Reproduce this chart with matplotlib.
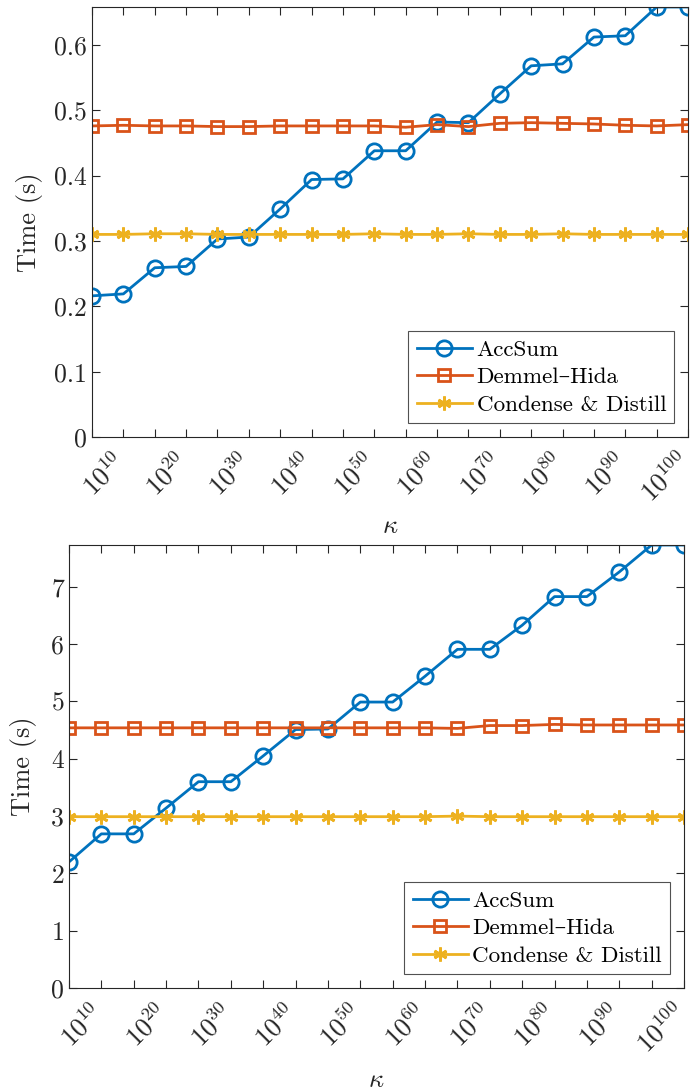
"""Timing comparison of summation algorithms versus condition number."""

import matplotlib
matplotlib.use("Agg")
import matplotlib.pyplot as plt
import matplotlib.transforms as mtransforms
import numpy as np
from matplotlib.ticker import FixedLocator, NullFormatter

plt.rcParams["font.family"] = ["cmr10", "DejaVu Serif"]
plt.rcParams["mathtext.fontset"] = "cm"
plt.rcParams["axes.unicode_minus"] = False

# condition numbers: 10^5 ... 10^100
exponents = list(range(5, 101, 5))
label_exps = list(range(10, 101, 10))

# top panel (s)
acc_top = [0.216, 0.219, 0.259, 0.261, 0.303, 0.306, 0.349, 0.394, 0.395, 0.438,
           0.438, 0.482, 0.481, 0.525, 0.568, 0.571, 0.612, 0.614, 0.658, 0.658]
dh_top = [0.476, 0.477, 0.476, 0.476, 0.475, 0.475, 0.476, 0.476, 0.476, 0.476,
          0.474, 0.478, 0.475, 0.480, 0.481, 0.480, 0.479, 0.477, 0.476, 0.478]
cd_top = [0.310, 0.310, 0.311, 0.311, 0.310, 0.310, 0.310, 0.310, 0.310, 0.311,
          0.310, 0.310, 0.311, 0.310, 0.310, 0.311, 0.310, 0.310, 0.310, 0.310]

# bottom panel (s)
acc_bot = [2.20, 2.69, 2.69, 3.14, 3.60, 3.60, 4.05, 4.51, 4.52, 4.99,
           4.99, 5.44, 5.91, 5.91, 6.33, 6.83, 6.83, 7.26, 7.73, 7.73]
dh_bot = [4.54, 4.54, 4.54, 4.54, 4.54, 4.54, 4.54, 4.54, 4.54, 4.54,
          4.54, 4.54, 4.53, 4.58, 4.58, 4.60, 4.59, 4.59, 4.59, 4.59]
cd_bot = [2.99, 2.99, 2.99, 2.99, 2.99, 2.99, 2.99, 2.99, 2.99, 2.99,
          2.99, 2.99, 3.00, 2.99, 2.99, 2.99, 2.99, 2.99, 2.99, 2.99]

labels = ["AccSum", "Demmel\u2013Hida", "Condense & Distill"]
colors = ["#0072BD", "#D95319", "#EDB120"]
markers = ["o", "s", (6, 2, 0)]
msizes = [11, 8, 10]

kappa = 10.0 ** np.array(exponents)


def draw_panel(fig, ax, series, ymax, yticks, yfmt, xlab_y, ylab_x):
    for vals, lab, c, m, ms in zip(series, labels, colors, markers, msizes):
        ax.plot(kappa, vals, color=c, marker=m, markersize=ms, linewidth=2.0,
                markerfacecolor="none", markeredgewidth=2.0, label=lab)
    ax.set_xscale("log")
    ax.set_xlim(1e5, 1e100)
    ax.set_ylim(0, ymax)

    major = [10.0 ** e for e in label_exps]
    minor = [10.0 ** e for e in range(5, 101, 10)]
    ax.xaxis.set_major_locator(FixedLocator(major))
    ax.xaxis.set_minor_locator(FixedLocator(minor))
    ax.xaxis.set_minor_formatter(NullFormatter())
    ax.set_xticklabels([])
    # rotated labels drawn by hand: upper-right end just right of the tick
    trans = ax.get_xaxis_transform() + mtransforms.ScaledTranslation(
        7 / 100, -11 / 100, fig.dpi_scale_trans)
    for e in label_exps:
        ax.text(10.0 ** e, 0, f"$10^{{{e}}}$", transform=trans, rotation=45,
                ha="right", va="top", fontsize=19, color="#262626", clip_on=False)
    ax.set_yticks(yticks)
    ax.set_yticklabels([yfmt(t) for t in yticks], fontsize=18.5)

    ax.tick_params(which="both", direction="in", top=True, right=True,
                   colors="#262626", length=6, width=0.8)
    for s in ax.spines.values():
        s.set_color("#262626")
        s.set_linewidth(0.8)

    ax.set_xlabel(r"$\kappa$", fontsize=19, color="#262626")
    ax.xaxis.set_label_coords(0.5, xlab_y)
    ax.set_ylabel("Time (s)", fontsize=19, color="#262626")
    ax.yaxis.set_label_coords(ylab_x, 0.5)
    leg = ax.legend(loc="lower right", fontsize=16.6, frameon=True, fancybox=False,
                    edgecolor="#262626", handlelength=2.4, handletextpad=0.2,
                    borderpad=0.35, labelspacing=0.33, borderaxespad=0.6)
    leg.get_frame().set_linewidth(0.8)


fig = plt.figure(figsize=(6.94, 10.92), dpi=100)

ax1 = fig.add_axes([0.1326, 0.5998, 0.8588, 0.3938])
draw_panel(fig, ax1, [acc_top, dh_top, cd_top], 0.658,
           [0, 0.1, 0.2, 0.3, 0.4, 0.5, 0.6],
           lambda t: "0" if t == 0 else f"{t:.1f}", -0.18, -0.082)

ax2 = fig.add_axes([0.0994, 0.0952, 0.8862, 0.4057])
draw_panel(fig, ax2, [acc_bot, dh_bot, cd_bot], 7.73,
           [0, 1, 2, 3, 4, 5, 6, 7],
           lambda t: f"{t:d}", -0.18, -0.052)

fig.savefig("out.png", dpi=100)
